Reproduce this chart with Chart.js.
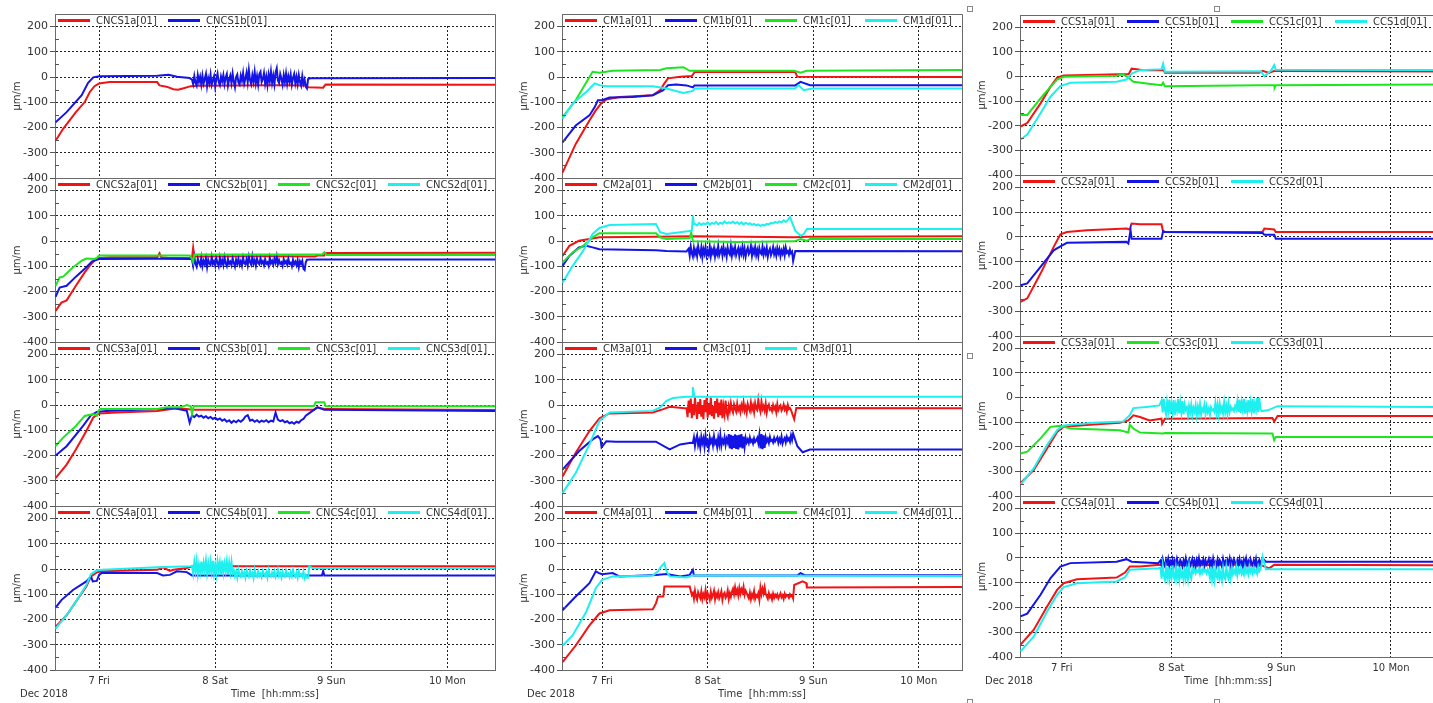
<!DOCTYPE html>
<html>
<head>
<meta charset="utf-8">
<script src="https://cdn.jsdelivr.net/npm/chart.js@4.4.0/dist/chart.umd.min.js"></script>
<style>
  html, body { margin: 0; padding: 0; background: #fff; overflow: hidden; width: 1433px; height: 703px; position: relative; }
  canvas { position: absolute; }
  .handle { position: absolute; width: 4px; height: 4px; border: 1px solid #888; background: #fff; }
</style>
</head>
<body>
<script>
// ============================
// axes
const xMin = 6.62, xMax = 10.41;               // days of Dec 2018
const dayTicks = [7, 8, 9, 10];
const dayLabels = ['7 Fri', '8 Sat', '9 Sun', '10 Mon'];
const yMin = -400, yMax = 250;
const yTicks = [-400, -300, -200, -100, 0, 100, 200];
const yMinorTicks = [-350, -250, -150, -50, 50, 150];

// logger sample steps (days) for the noisy stretches
const FINE = 0.01, COARSE = 0.02;
function burst(t0, dt, vals) {
  return vals.map((v, i) => [t0 + i * dt, v]);
}

// ============================
// CNCS column
const cncs1bNoise = [-10,-28,4,-22,-34,8,-18,2,-30,6, -26,-8,12,-36,-4,-24,10,-30,-12,4, -38,-6,14,-20,-32,2,-16,8,-28,-2, 12,-34,-10,6,-24,14,-18,-40,0,10,
  -22,-30,6,-14,16,-26,-6,18,-20,28, -12,-28,8,-18,20,-24,4,-30,12,21, -20,-8,16,-26,2,-32,10,-16,22,-22, 6,-28,18,35,-14,-24,12,-6,-30,8,
  -20,14,-26,4,-18,10,-30,-4,12,-24, 2,-28,8,-20,-34,4,-26,-10,-38,-45];
const cncs2bNoise = [-72,-98,-64,-90,-102,-70,-86,-96,-66,-100, -78,-92,-68,-104,-74,-88,-95,-63,-90,-80, -98,-70,-85,-100,-66,-92,-76,-96,-64,-88,
  -100,-72,-90,-82,-96,-68,-86,-102,-74,-90, -70,-94,-80,-98,-66,-88,-92,-72,-96,-62, -84,-94,-61,-90,-76,-98,-70,-86,-92,-68,
  -88,-80,-96,-72,-90,-84,-98,-66,-88,-78, -94,-70,-86,-61,-92,-76,-90,-84,-98,-72, -88,-80,-94,-70,-90,-86,-100,-74,-92,-82, -96,-76,-104,-80,-90,-78,-110,-115,-84,-74];
const cncs3bNoise = [-40,-48,-38,-46,-42,-50,-44,-52,-47,-55,-50,-58,-53,-62,-56,-66,-60,-70,-62,-68,-60,-66,-58,-45,-40,-62,-58,-66,-60,-68,-62,-66,-60,-68,-62,-65,-30,-58,-64,-60,-68,-64,-72,-68,-74,-66,-70,-60,-55,-42];
const cncs4dNoise = [12,-18,28,-8,32,-20,18,-12,30,-22, 24,-6,34,-16,20,-23,28,-10,33,-18, 16,-20,30,-4,26,-22,34,-14,22,-8, 30,-20,25,-12,28,-16, -4,-28,-10,-34,
  -2,-22,-30,-8,-26,-14,-34,-4,-20,-30, -6,-26,-16,-36,-2,-24,-30,-10,-28,-18, -32,-6,-22,-28,-12,-34,-4,-24,-30,-14, -26,-8,-32,-20,-2,-28,-16,-34,-10,-24,
  -30,-6,-26,-18,-32,-12,-28,-4,-22,-30, -14,-34,-8,-26,-20,-30,-10,-36,-24,-34];

const cncs1a = [[6.625,-252],[6.69,-205],[6.80,-139],[6.876,-99],[6.92,-59],[6.96,-36],[7.0,-25],[7.09,-20],[7.5,-20],[7.52,-33],[7.58,-38],[7.64,-48],[7.68,-50],[7.72,-45],[7.79,-36],[7.85,-34],[8.2,-33],[8.5,-32],[8.78,-33],[8.80,-40],[8.93,-42],[8.95,-29],[10.41,-30]];
const cncs1b = [[6.625,-179],[6.72,-139],[6.85,-72],[6.905,-23],[6.95,-1],[7.0,3],[7.5,5],[7.6,9],[7.67,1],[7.78,-4], ...burst(7.80, FINE, cncs1bNoise), [8.80,-8],[8.82,-5],[10.41,-4]];

const cncs2a = [[6.625,-277],[6.675,-244],[6.72,-235],[6.80,-177],[6.876,-124],[6.92,-97],[6.96,-77],[7.0,-67],[7.1,-64],[7.5,-64],[7.52,-48],[7.535,-64],[7.6,-67],[7.8,-67],[7.81,-27],[7.82,-61],[8.5,-60],[8.86,-61],[8.88,-57],[8.94,-57],[8.95,-47],[10.41,-46]];
const cncs2b = [[6.625,-221],[6.66,-184],[6.72,-177],[6.80,-141],[6.89,-104],[6.94,-80],[7.0,-71],[7.5,-70],[7.79,-71], ...burst(7.80, FINE, cncs2bNoise), [8.82,-73],[10.41,-73]];
const cncs2c = [[6.625,-177],[6.66,-144],[6.69,-141],[6.775,-104],[6.86,-75],[6.895,-69],[6.96,-71],[6.98,-67],[7.0,-57],[7.78,-57],[7.80,-71],[7.81,-84],[7.82,-53],[8.92,-53],[8.94,-44],[8.96,-55],[10.41,-55]];
const cncs2d = [];

const cncs3a = [[6.625,-289],[6.72,-236],[6.80,-176],[6.89,-103],[6.95,-49],[6.98,-40],[7.0,-33],[7.15,-29],[7.5,-23],[7.67,-13],[7.755,-16],[7.81,-19],[8.85,-19],[8.88,-9],[8.95,-16],[10.41,-20]];
const cncs3b = [[6.625,-200],[6.72,-163],[6.86,-83],[6.93,-40],[6.98,-27],[7.06,-23],[7.5,-16],[7.64,-12],[7.755,-23],[7.78,-70], ...burst(7.80, COARSE, cncs3bNoise), [8.82,-29],[8.88,-9],[8.94,-19],[10.41,-23]];
const cncs3c = [[6.625,-163],[6.69,-129],[6.80,-83],[6.876,-43],[6.95,-36],[6.98,-43],[6.995,-23],[7.01,-16],[7.5,-16],[7.58,-9],[7.70,-9],[7.755,0],[7.79,-5],[7.80,-36],[7.815,-4],[8.85,-4],[8.865,11],[8.94,11],[8.95,-5],[10.41,-5]];
const cncs3d = [];

const cncs4a = [[6.625,-229],[6.72,-183],[6.80,-129],[6.89,-69],[6.93,-29],[6.98,-13],[7.03,-9],[7.5,-3],[7.55,7],[7.61,-7],[7.64,-3],[7.755,4],[7.81,11],[10.41,11]];
const cncs4b = [[6.625,-153],[6.675,-123],[6.775,-83],[6.89,-49],[6.93,-29],[6.945,-49],[6.98,-47],[7.0,-23],[7.02,-16],[7.5,-16],[7.55,-25],[7.61,-23],[7.67,-9],[7.755,-12],[7.8,-25],[8.92,-25],[8.93,-8],[8.94,-25],[10.41,-25]];
const cncs4c = [];
const cncs4d = [[6.625,-236],[6.72,-183],[6.80,-129],[6.89,-63],[6.93,-20],[6.98,-5],[7.03,-3],[7.5,7],[7.79,11], ...burst(7.80, FINE, cncs4dNoise), [8.80,-34],[8.81,11],[8.84,4],[10.41,4]];

// ============================
// CM column
const cm2bNoise = [-30,-58,-22,-48,-62,-28,-52,-36,-60,-20, -44,-56,-26,-64,-32,-50,-24,-58,-40,-54, -22,-60,-34,-48,-28,-62,-38,-52,-20,-56, -42,-30,-58,-24,-50,-36,-62,-26,-46,-54,
  -20,-58,-32,-48,-24,-56,-40,-28,-60,-34, -50,-22,-54,-30,-62,-38,-26,-52,-44,-20, -58,-32,-48,-24,-56,-36,-60,-28,-46,-52, -22,-54,-34,-50,-26,-62,-40,-30,-56,-44,
  -24,-52,-36,-58,-28,-48,-32,-60,-38,-50, -30,-56,-26,-46,-40,-54,-34,-48,-42,-79];
const cm2dNoise = [68,62,72,64,70,66,74,65,72,68,76,66,73,69,78,70,74,72,77,70,75,68,74,66,72,68,70,64,68,62,66,60,64,62,68,66,72,70,76,72,78,74,82,76,84,95];
const cm3aNoise = [-12,-48,18,-30,26,-52,4,-40,30,-20, -55,12,-35,24,-46,0,-56,20,-28,28, -50,8,-38,30,-44,-4,-54,16,-32,26, -48,10,-40,22,-52,-6,-36,18,-30,-46,
  -4,-24,8,-18,-30,2,-14,-26,6,-20, -8,-28,0,-16,12,-22,-6,-30,4,-12, -24,10,-18,-2,-28,8,-14,-20,20,-10, -26,14,-16,-4,-22,6,-30,-8,2,-18,
  -12,-24,0,-16,-6,-28,4,-20,-10,-2, -22,-14,2,-18,-8,-26,0,-16,-12,-20];
const cm3cNoise = [-150,-128,-162,-135,-120,-158,-140,-168,-126,-150, -132,-165,-122,-155,-145,-170,-128,-148,-136,-160, -124,-152,-142,-166,-130,-156,-120,-162,-138,-150,
  -128,-158,-134,-148,-115,-172,-118,-175,-122,-170, -116,-174,-120,-176,-118,-168,-115,-172,-125,-166, -130,-148,-136,-150,-128,-145,-138,-152,-132,-146,
  -140,-130,-150,-118,-172,-115,-175,-120,-170,-128, -145,-134,-150,-126,-142,-138,-148,-130,-144,-136, -128,-150,-134,-146,-124,-152,-138,-130,-148,-126, -140,-132,-145,-120,-138,-113];
const cm4aNoise = [-95,-118,-86,-110,-122,-92,-104,-115,-88,-120, -100,-112,-84,-118,-96,-106,-122,-90,-114,-102, -86,-120,-98,-110,-92,-116,-104,-88,-122,-100, -94,-114,-106,-85,-118,-96,-110,-90,
  -78,-100,-72,-96,-82,-104,-75,-98,-80,-92,-70,-102,-86,-95, -106,-116,-94,-120,-100,-112,-88,-118,-104,-110,-96,-122, -74,-100,-78,-96,-72,-98,
  -108,-118,-96,-112,-104,-120,-98,-114,-102,-110, -100,-116,-106,-96,-112,-104,-118,-98,-110,-102, -106,-114,-100,-108,-104,-116];

const cm1a = [[6.625,-379],[6.75,-265],[6.88,-172],[6.94,-132],[6.99,-105],[7.04,-89],[7.165,-79],[7.48,-72],[7.55,-52],[7.59,-25],[7.625,-5],[7.74,1],[7.85,4],[7.88,21],[8.83,20],[8.85,1],[10.41,0]];
const cm1b = [[6.625,-259],[6.75,-192],[6.88,-152],[6.93,-119],[6.96,-92],[7.0,-92],[7.07,-81],[7.29,-79],[7.48,-72],[7.58,-52],[7.625,-32],[7.70,-29],[7.80,-33],[7.86,-41],[7.875,-33],[8.83,-33],[8.88,-19],[8.97,-32],[10.41,-32]];
const cm1c = [[6.625,-159],[6.75,-92],[6.91,21],[6.975,17],[7.1,25],[7.55,28],[7.61,35],[7.77,39],[7.83,25],[7.93,25],[8.82,25],[8.88,17],[8.94,25],[10.41,28]];
const cm1d = [[6.625,-165],[6.72,-105],[6.85,-59],[6.93,-25],[6.975,-32],[7.04,-36],[7.48,-36],[7.61,-45],[7.77,-63],[7.86,-55],[7.88,-45],[8.83,-45],[8.86,-32],[8.91,-52],[8.99,-45],[10.41,-45]];

const cm2a = [[6.625,-59],[6.69,-19],[6.78,1],[6.88,8],[6.975,15],[7.51,17],[7.86,19],[8.82,15],[8.94,17],[10.41,19]];
const cm2b = [[6.625,-99],[6.69,-59],[6.78,-25],[6.85,-19],[6.91,-25],[6.975,-32],[7.51,-36],[7.61,-39],[7.80,-41], ...burst(7.82, FINE, cm2bNoise), [8.83,-39],[10.41,-40]];
const cm2c = [[6.625,-85],[6.72,-45],[6.82,-19],[6.91,15],[6.975,31],[7.04,31],[7.51,31],[7.55,15],[7.61,8],[7.83,12],[7.845,35],[7.86,-1],[8.3,-4],[8.82,-1],[8.88,8],[8.94,1],[8.97,8],[10.41,8]];
const cm2d = [[6.625,-165],[6.72,-99],[6.82,-39],[6.91,28],[6.975,52],[7.07,64],[7.51,68],[7.55,35],[7.61,28],[7.74,35],[7.85,41],[7.86,101],[7.87,68], ...burst(7.88, COARSE, cm2dNoise), [8.83,41],[8.88,21],[8.91,28],[8.94,48],[10.41,48]];

const cm3a = [[6.625,-283],[6.75,-189],[6.88,-103],[6.975,-52],[7.07,-33],[7.29,-31],[7.48,-29],[7.58,-16],[7.64,-7],[7.78,-13], ...burst(7.80, FINE, cm3aNoise), [8.82,-56],[8.84,-12],[10.41,-13]];
const cm3c = [[6.625,-256],[6.78,-183],[6.91,-136],[6.96,-123],[6.985,-136],[6.995,-167],[7.04,-143],[7.13,-145],[7.51,-145],[7.64,-176],[7.74,-156],[7.84,-149], ...burst(7.86, FINE, cm3cNoise), [8.85,-163],[8.90,-187],[8.97,-176],[10.41,-176]];
const cm3d = [[6.625,-349],[6.75,-269],[6.88,-156],[6.975,-63],[7.07,-29],[7.48,-23],[7.55,-9],[7.61,17],[7.67,28],[7.8,33],[7.855,33],[7.86,71],[7.875,33],[10.41,33]];

const cm4a = [[6.625,-369],[6.75,-303],[6.88,-223],[6.975,-176],[7.07,-163],[7.48,-159],[7.51,-136],[7.53,-109],[7.58,-109],[7.59,-69],[7.83,-69],[7.85,-103], ...burst(7.86, FINE, cm4aNoise), [8.82,-63],[8.9,-49],[8.935,-56],[8.94,-73],[10.41,-71]];
const cm4b = [[6.625,-163],[6.75,-109],[6.88,-56],[6.94,-9],[6.97,-16],[7.0,-20],[7.1,-16],[7.165,-29],[7.51,-23],[7.61,-20],[7.74,-29],[7.83,-23],[7.86,-3],[7.87,-25],[8.85,-25],[8.88,-16],[8.92,-24],[10.41,-24]];
const cm4c = [];
const cm4d = [[6.625,-303],[6.72,-263],[6.85,-169],[6.94,-76],[7.0,-43],[7.1,-29],[7.48,-25],[7.53,-9],[7.56,11],[7.59,24],[7.61,-9],[7.64,-29],[7.8,-33],[7.86,-25],[10.41,-27]];

// ============================
// CCS column
const ccs3dNoise = [-12,-60,-5,-48,-68,-18,-55,-8,-66,-25, -58,-10,-70,-30,-52,-6,-64,-20,-60,-14, -68,-28,-50,-40,-72,-35,-62,-30,-70,-42, -58,-32,-72,-38,-64,-28,-68,-45,-55,-30,
  -66,-36,-60,-44,-70,-40,-52,-48,-58,-22, -62,-30,-68,-26,-56,-40,-64,-20,-60,-34, -66,-24,-58,-38,-50,-44,-54,-35,-48,-15, -58,-8,-62,-20,-50,-5,-65,-28,-55,-10,
  -60,-18,-52,-6,-64,-25,-48,-2,-58,0, -45,-55];
const ccs4bNoise = [-10,-30,-4,-24,-34,-8,-20,-2,-32,-14, -26,-6,-35,-12,-28,-3,-22,-30,-8,-18, -34,-10,-26,-2,-30,-16,-6,-32,-20,-4, -28,-12,-35,-8,-24,-1,-30,-14,-22,-6,
  -33,-10,-26,-18,-4,-30,-12,-34,-2,-24, -16,-32,-6,-28,-10,-20,-35,-4,-26,-14, -30,-8,-22,-2,-34,-12,-28,-6,-20,-32, -10,-26,-4,-30,-16,-35,-8,-24,-2,-28,
  -14,-32,-6,-22,-30,-10,-26,-4,-34,-18, -8,-28,-12,-1];
const ccs4dNoise = [-40,-84,-32,-70,-88,-45,-78,-36,-86,-55, -80,-30,-74,-88,-42,-82,-50,-86,-35,-76, -62,-88,-38,-80,-48,-85,-34,-72,-84,-44, -58,-46,-62,-50,-56,-44,-64,-48,-60,-42,
  -55,-50,-62,-46,-58, -80,-36,-86,-52,-88,-40,-76,-84,-35,-82, -60,-88,-44,-78,-86,-38,-70,-84,-48,-80, -42,-66,-50,-62,-36,-70,-46,-58,-40,-64,
  -52,-68,-38,-60,-48,-66,-35,-56,-44,-62, -40,-58,-50,-64,-36,-54,-46,-30,5];

const ccs1a = [[6.625,-203],[6.686,-189],[6.807,-109],[6.897,-42],[6.958,-4],[7.018,4],[7.53,9],[7.61,9],[7.637,32],[7.683,30],[7.743,26],[7.93,26],[7.94,15],[8.8,15],[8.83,23],[8.89,15],[8.936,23],[10.41,20]];
const ccs1b = [];
const ccs1c = [[6.625,-156],[6.686,-156],[6.807,-89],[6.897,-42],[6.958,-12],[7.018,-1],[7.5,3],[7.56,9],[7.607,-4],[7.653,-21],[7.773,-28],[7.909,-35],[7.924,-25],[7.94,-39],[8.8,-35],[8.936,-35],[8.94,-45],[8.95,-35],[10.41,-32]];
const ccs1d = [[6.625,-256],[6.686,-236],[6.807,-149],[6.897,-82],[6.988,-39],[7.079,-25],[7.5,-21],[7.59,-12],[7.637,12],[7.713,26],[7.909,30],[7.924,52],[7.94,19],[8.816,21],[8.846,1],[8.906,23],[8.936,46],[8.95,28],[10.41,27]];

const ccs2a = [[6.625,-262],[6.686,-248],[6.807,-148],[6.927,-40],[6.988,11],[7.048,20],[7.23,27],[7.59,34],[7.62,30],[7.637,54],[7.713,51],[7.909,51],[7.924,20],[8.83,20],[8.846,34],[8.936,30],[8.95,20],[10.41,20]];
const ccs2b = [[6.625,-195],[6.686,-188],[6.807,-121],[6.927,-54],[6.988,-38],[7.048,-24],[7.59,-20],[7.607,-27],[7.627,27],[7.637,-7],[7.909,-7],[7.924,24],[7.94,20],[8.83,16],[8.846,9],[8.936,9],[8.95,-7],[10.41,-7]];
const ccs2d = [];

const ccs3a = [[6.625,-348],[6.746,-294],[6.867,-207],[6.958,-140],[7.018,-119],[7.29,-110],[7.53,-102],[7.607,-93],[7.653,-72],[7.713,-79],[7.80,-93],[7.909,-86],[7.915,-106],[7.94,-86],[8.92,-83],[8.936,-97],[8.967,-75],[10.41,-75]];
const ccs3c = [[6.625,-227],[6.686,-220],[6.807,-166],[6.897,-119],[6.988,-115],[7.079,-126],[7.53,-133],[7.607,-142],[7.62,-110],[7.653,-126],[7.713,-142],[7.924,-146],[7.94,-144],[8.92,-146],[8.936,-173],[8.95,-160],[10.41,-160]];
const ccs3d = [[6.625,-354],[6.746,-287],[6.867,-193],[6.958,-133],[7.018,-113],[7.29,-102],[7.56,-97],[7.62,-72],[7.653,-43],[7.773,-38],[7.89,-32], ...burst(7.91, FINE, ccs3dNoise), [8.876,-52],[8.967,-35],[10.41,-38]];

const ccs4a = [[6.625,-350],[6.746,-290],[6.867,-196],[6.958,-129],[7.018,-102],[7.139,-86],[7.5,-79],[7.577,-59],[7.62,-35],[7.713,-35],[7.894,-28],[8.2,-31],[8.5,-27],[8.83,-32],[8.89,-42],[8.936,-28],[10.41,-30]];
const ccs4b = [[6.625,-236],[6.686,-225],[6.807,-149],[6.897,-82],[6.988,-35],[7.079,-21],[7.5,-15],[7.59,-5],[7.637,-15],[7.88,-21], ...burst(7.90, FINE, ccs4bNoise), [8.86,-15],[10.41,-15]];
const ccs4d = [[6.625,-377],[6.746,-317],[6.867,-216],[6.958,-149],[7.018,-118],[7.139,-102],[7.5,-95],[7.577,-78],[7.62,-48],[7.88,-42], ...burst(7.90, FINE, ccs4dNoise), [8.86,-46],[10.41,-46]];

// ============================
// looks
const RED = '#f01414', BLUE = '#1414e6', GREEN = '#1ee61e', CYAN = '#1ef0f0';
const TXT = '#333';
const FONT = '"DejaVu Sans", Verdana, sans-serif';
const PAD = 8, AXIS_H = 33, Y_W = 55;

const columns = [
  { left: 0, width: 496, tops: [14, 178, 342, 506], heights: [164, 164, 164, 164], panels: [
    { names: ['CNCS1a[01]', 'CNCS1b[01]'], colors: [RED, BLUE], series: [cncs1a, cncs1b] },
    { names: ['CNCS2a[01]', 'CNCS2b[01]', 'CNCS2c[01]', 'CNCS2d[01]'], colors: [RED, BLUE, GREEN, CYAN], series: [cncs2a, cncs2b, cncs2c, cncs2d] },
    { names: ['CNCS3a[01]', 'CNCS3b[01]', 'CNCS3c[01]', 'CNCS3d[01]'], colors: [RED, BLUE, GREEN, CYAN], series: [cncs3a, cncs3b, cncs3c, cncs3d] },
    { names: ['CNCS4a[01]', 'CNCS4b[01]', 'CNCS4c[01]', 'CNCS4d[01]'], colors: [RED, BLUE, GREEN, CYAN], series: [cncs4a, cncs4b, cncs4c, cncs4d] }
  ]},
  { left: 507, width: 456, tops: [14, 178, 342, 506], heights: [164, 164, 164, 164], panels: [
    { names: ['CM1a[01]', 'CM1b[01]', 'CM1c[01]', 'CM1d[01]'], colors: [RED, BLUE, GREEN, CYAN], series: [cm1a, cm1b, cm1c, cm1d] },
    { names: ['CM2a[01]', 'CM2b[01]', 'CM2c[01]', 'CM2d[01]'], colors: [RED, BLUE, GREEN, CYAN], series: [cm2a, cm2b, cm2c, cm2d] },
    { names: ['CM3a[01]', 'CM3c[01]', 'CM3d[01]'], colors: [RED, BLUE, CYAN], series: [cm3a, cm3c, cm3d] },
    { names: ['CM4a[01]', 'CM4b[01]', 'CM4c[01]', 'CM4d[01]'], colors: [RED, BLUE, GREEN, CYAN], series: [cm4a, cm4b, cm4c, cm4d] }
  ]},
  { left: 965, width: 472, tops: [15, 175, 336, 496], heights: [160, 161, 160, 161], panels: [
    { names: ['CCS1a[01]', 'CCS1b[01]', 'CCS1c[01]', 'CCS1d[01]'], colors: [RED, BLUE, GREEN, CYAN], series: [ccs1a, ccs1b, ccs1c, ccs1d] },
    { names: ['CCS2a[01]', 'CCS2b[01]', 'CCS2d[01]'], colors: [RED, BLUE, CYAN], series: [ccs2a, ccs2b, ccs2d] },
    { names: ['CCS3a[01]', 'CCS3c[01]', 'CCS3d[01]'], colors: [RED, GREEN, CYAN], series: [ccs3a, ccs3c, ccs3d] },
    { names: ['CCS4a[01]', 'CCS4b[01]', 'CCS4d[01]'], colors: [RED, BLUE, CYAN], series: [ccs4a, ccs4b, ccs4d] }
  ]}
];

// ============================
// frame, minor ticks, in-plot legend, date caption
const panelDeco = {
  id: 'panelDeco',
  afterDraw(chart, args, opts) {
    const { ctx, chartArea: a, scales: { y } } = chart;
    ctx.save();

    ctx.fillStyle = '#fff';
    ctx.fillRect(a.left + 1, a.top + 1, a.right - a.left - 2, 10);

    ctx.strokeStyle = '#6a6a6a';
    ctx.lineWidth = 1;
    ctx.beginPath();
    ctx.moveTo(a.left, a.top + 0.5);
    ctx.lineTo(a.right + 0.5, a.top + 0.5);
    ctx.lineTo(a.right + 0.5, a.bottom);
    ctx.stroke();

    ctx.strokeStyle = '#555';
    ctx.beginPath();
    yMinorTicks.forEach(v => {
      const py = Math.round(y.getPixelForValue(v)) + 0.5;
      ctx.moveTo(a.left, py);
      ctx.lineTo(a.left + 4, py);
    });
    ctx.stroke();

    const pitch = (a.right - a.left) / 4;
    ctx.font = '10px ' + FONT;
    ctx.textBaseline = 'middle';
    ctx.textAlign = 'left';
    chart.data.datasets.forEach((ds, i) => {
      const lx = a.left + 3 + i * pitch;
      const ly = a.top + 6.5;
      ctx.strokeStyle = ds.borderColor;
      ctx.lineWidth = 3;
      ctx.beginPath();
      ctx.moveTo(lx, ly);
      ctx.lineTo(lx + 32, ly);
      ctx.stroke();
      ctx.fillStyle = TXT;
      ctx.fillText(ds.label, lx + 38, ly + 1);
    });

    if (opts.bottom) {
      ctx.fillStyle = TXT;
      ctx.fillText('Dec 2018', a.left - 35, a.bottom + 24);
    }
    ctx.restore();
  }
};

// ============================
function makeConfig(p, bottom) {
  return {
    type: 'line',
    data: {
      datasets: p.series.map((s, i) => ({
        label: p.names[i],
        data: s.map(([x, y]) => ({ x, y })),
        borderColor: p.colors[i],
        backgroundColor: p.colors[i],
        borderWidth: 2,
        pointRadius: 0,
        tension: 0,
        fill: false,
        order: p.series.length - i
      }))
    },
    options: {
      responsive: false,
      animation: false,
      events: [],
      layout: { padding: { top: PAD, bottom: bottom ? 0 : PAD, left: 0, right: 1 } },
      plugins: {
        legend: { display: false },
        tooltip: { enabled: false },
        panelDeco: { bottom }
      },
      scales: {
        x: {
          type: 'linear',
          min: xMin,
          max: xMax,
          afterBuildTicks: s => { s.ticks = dayTicks.map(v => ({ value: v })); },
          afterFit: s => { s.height = bottom ? AXIS_H : 0; s.paddingLeft = 0; s.paddingRight = 0; },
          grid: { color: '#222', lineWidth: 1, drawTicks: false },
          border: { color: '#6a6a6a', width: 1, dash: [2, 2] },
          ticks: {
            display: bottom, autoSkip: false, maxRotation: 0, padding: 5,
            color: TXT, font: { family: FONT, size: 10 },
            callback: v => dayLabels[dayTicks.indexOf(v)]
          },
          title: {
            display: bottom, text: 'Time  [hh:mm:ss]', color: TXT,
            font: { family: FONT, size: 10 }, padding: { top: 0, bottom: 3 }
          }
        },
        y: {
          min: yMin,
          max: yMax,
          afterBuildTicks: s => { s.ticks = yTicks.map(v => ({ value: v })); },
          afterFit: s => { s.width = Y_W; s.paddingTop = 0; s.paddingBottom = 0; },
          grid: { color: '#222', lineWidth: 1, drawTicks: true, tickLength: 5, tickColor: '#555' },
          border: { color: '#6a6a6a', width: 1, dash: [2, 2] },
          ticks: { color: TXT, font: { family: FONT, size: 11 }, padding: 2, callback: v => String(v) },
          title: {
            display: true, text: 'μm/m', color: TXT,
            font: { family: FONT, size: 10 }, padding: { top: 11, bottom: 0 }
          }
        }
      }
    },
    plugins: [panelDeco]
  };
}

// ============================
columns.forEach(col => {
  col.panels.forEach((p, r) => {
    const bottom = r === col.panels.length - 1;
    const h = PAD + col.heights[r] + (bottom ? AXIS_H : PAD);
    const cv = document.createElement('canvas');
    cv.width = col.width;
    cv.height = h;
    cv.style.left = col.left + 'px';
    cv.style.top = (col.tops[r] - PAD) + 'px';
    cv.style.width = col.width + 'px';
    cv.style.height = h + 'px';
    document.body.appendChild(cv);
    new Chart(cv, makeConfig(p, bottom));
  });
});

// selection handles round the right-hand graph
[[967, 6], [1214, 6], [967, 353], [967, 699], [1214, 699]].forEach(([x, y]) => {
  const d = document.createElement('div');
  d.className = 'handle';
  d.style.left = x + 'px';
  d.style.top = y + 'px';
  document.body.appendChild(d);
});
</script>
</body>
</html>
